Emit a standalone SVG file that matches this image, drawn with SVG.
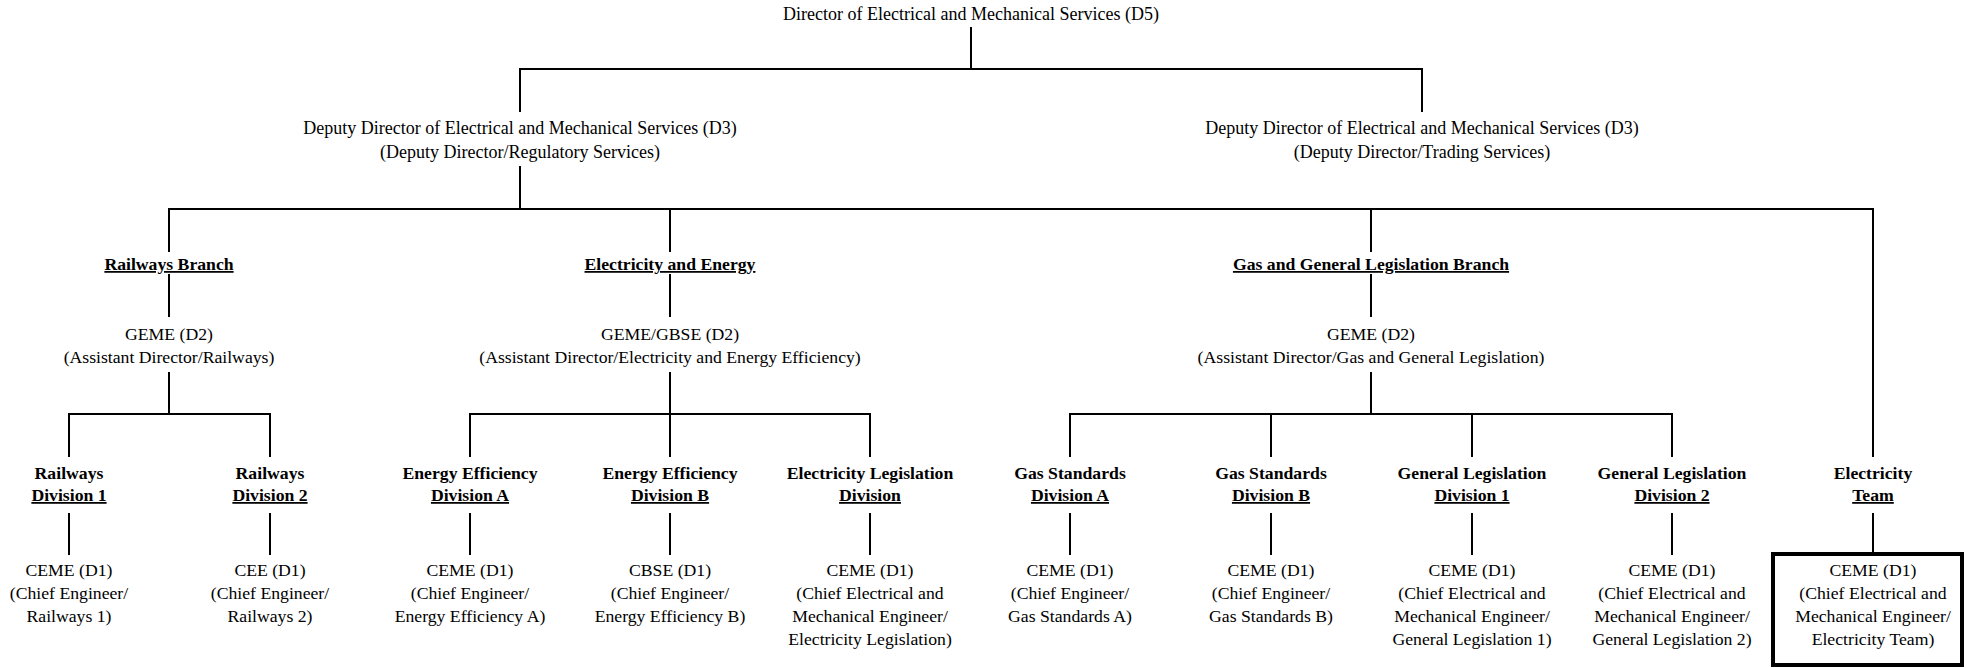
<svg xmlns="http://www.w3.org/2000/svg" width="1973" height="668" viewBox="0 0 1973 668">
<style>
text{font-family:"Liberation Serif","Times New Roman",serif;font-size:17.7px;fill:#000;text-anchor:middle}
.t{font-size:18px}
.b{font-weight:bold}
.u{text-decoration:underline}
.c path{fill:none;stroke:#000;stroke-width:2}
.box{fill:none;stroke:#000;stroke-width:4}
</style>
<rect width="1973" height="668" fill="#fff"/>
<g id="connectors" class="c">
<path d="M971,27 V69"/>
<path d="M520,112 V69 H1422 V112"/>
<path d="M520,166 V209"/>
<path d="M169,252 V209 H1873 V457"/>
<path d="M670,209 V252"/>
<path d="M1371,209 V252"/>
<path d="M169,274 V317"/>
<path d="M670,274 V317"/>
<path d="M1371,274 V317"/>
<path d="M169,372 V414"/>
<path d="M670,372 V457"/>
<path d="M1371,372 V414"/>
<path d="M69,457 V414 H270 V457"/>
<path d="M470,457 V414 H870 V457"/>
<path d="M1070,457 V414 H1672 V457"/>
<path d="M1271,414 V457"/>
<path d="M1472,414 V457"/>
<path d="M69,513 V555"/>
<path d="M270,513 V555"/>
<path d="M470,513 V555"/>
<path d="M670,513 V555"/>
<path d="M870,513 V555"/>
<path d="M1070,513 V555"/>
<path d="M1271,513 V555"/>
<path d="M1472,513 V555"/>
<path d="M1672,513 V555"/>
<path d="M1873,513 V552"/>
</g>
<g id="d5"><text class="t" x="971" y="20">Director of Electrical and Mechanical Services (D5)</text></g>
<g id="dd-reg"><text class="t" x="520" y="134">Deputy Director of Electrical and Mechanical Services (D3)</text><text class="t" x="520" y="158">(Deputy Director/Regulatory Services)</text></g>
<g id="dd-trade"><text class="t" x="1422" y="134">Deputy Director of Electrical and Mechanical Services (D3)</text><text class="t" x="1422" y="158">(Deputy Director/Trading Services)</text></g>
<g id="br-rail"><text class="b u" x="169" y="270">Railways Branch</text></g>
<g id="br-elec"><text class="b u" x="670" y="270">Electricity and Energy</text></g>
<g id="br-gas"><text class="b u" x="1371" y="270">Gas and General Legislation Branch</text></g>
<g id="ad-rail"><text x="169" y="340">GEME (D2)</text><text x="169" y="363">(Assistant Director/Railways)</text></g>
<g id="ad-elec"><text x="670" y="340">GEME/GBSE (D2)</text><text x="670" y="363">(Assistant Director/Electricity and Energy Efficiency)</text></g>
<g id="ad-gas"><text x="1371" y="340">GEME (D2)</text><text x="1371" y="363">(Assistant Director/Gas and General Legislation)</text></g>
<g id="div-r1"><text class="b" x="69" y="479">Railways</text><text class="b u" x="69" y="501">Division 1</text></g>
<g id="div-r2"><text class="b" x="270" y="479">Railways</text><text class="b u" x="270" y="501">Division 2</text></g>
<g id="div-ea"><text class="b" x="470" y="479">Energy Efficiency</text><text class="b u" x="470" y="501">Division A</text></g>
<g id="div-eb"><text class="b" x="670" y="479">Energy Efficiency</text><text class="b u" x="670" y="501">Division B</text></g>
<g id="div-el"><text class="b" x="870" y="479">Electricity Legislation</text><text class="b u" x="870" y="501">Division</text></g>
<g id="div-ga"><text class="b" x="1070" y="479">Gas Standards</text><text class="b u" x="1070" y="501">Division A</text></g>
<g id="div-gb"><text class="b" x="1271" y="479">Gas Standards</text><text class="b u" x="1271" y="501">Division B</text></g>
<g id="div-gl1"><text class="b" x="1472" y="479">General Legislation</text><text class="b u" x="1472" y="501">Division 1</text></g>
<g id="div-gl2"><text class="b" x="1672" y="479">General Legislation</text><text class="b u" x="1672" y="501">Division 2</text></g>
<g id="div-et"><text class="b" x="1873" y="479">Electricity</text><text class="b u" x="1873" y="501">Team</text></g>
<g id="ce-r1"><text x="69" y="576">CEME (D1)</text><text x="69" y="599">(Chief Engineer/</text><text x="69" y="622">Railways 1)</text></g>
<g id="ce-r2"><text x="270" y="576">CEE (D1)</text><text x="270" y="599">(Chief Engineer/</text><text x="270" y="622">Railways 2)</text></g>
<g id="ce-ea"><text x="470" y="576">CEME (D1)</text><text x="470" y="599">(Chief Engineer/</text><text x="470" y="622">Energy Efficiency A)</text></g>
<g id="ce-eb"><text x="670" y="576">CBSE (D1)</text><text x="670" y="599">(Chief Engineer/</text><text x="670" y="622">Energy Efficiency B)</text></g>
<g id="ce-el"><text x="870" y="576">CEME (D1)</text><text x="870" y="599">(Chief Electrical and</text><text x="870" y="622">Mechanical Engineer/</text><text x="870" y="645">Electricity Legislation)</text></g>
<g id="ce-ga"><text x="1070" y="576">CEME (D1)</text><text x="1070" y="599">(Chief Engineer/</text><text x="1070" y="622">Gas Standards A)</text></g>
<g id="ce-gb"><text x="1271" y="576">CEME (D1)</text><text x="1271" y="599">(Chief Engineer/</text><text x="1271" y="622">Gas Standards B)</text></g>
<g id="ce-gl1"><text x="1472" y="576">CEME (D1)</text><text x="1472" y="599">(Chief Electrical and</text><text x="1472" y="622">Mechanical Engineer/</text><text x="1472" y="645">General Legislation 1)</text></g>
<g id="ce-gl2"><text x="1672" y="576">CEME (D1)</text><text x="1672" y="599">(Chief Electrical and</text><text x="1672" y="622">Mechanical Engineer/</text><text x="1672" y="645">General Legislation 2)</text></g>
<g id="ce-et"><rect class="box" x="1773" y="554" width="189" height="111"/><text x="1873" y="576">CEME (D1)</text><text x="1873" y="599">(Chief Electrical and</text><text x="1873" y="622">Mechanical Engineer/</text><text x="1873" y="645">Electricity Team)</text></g>
</svg>
